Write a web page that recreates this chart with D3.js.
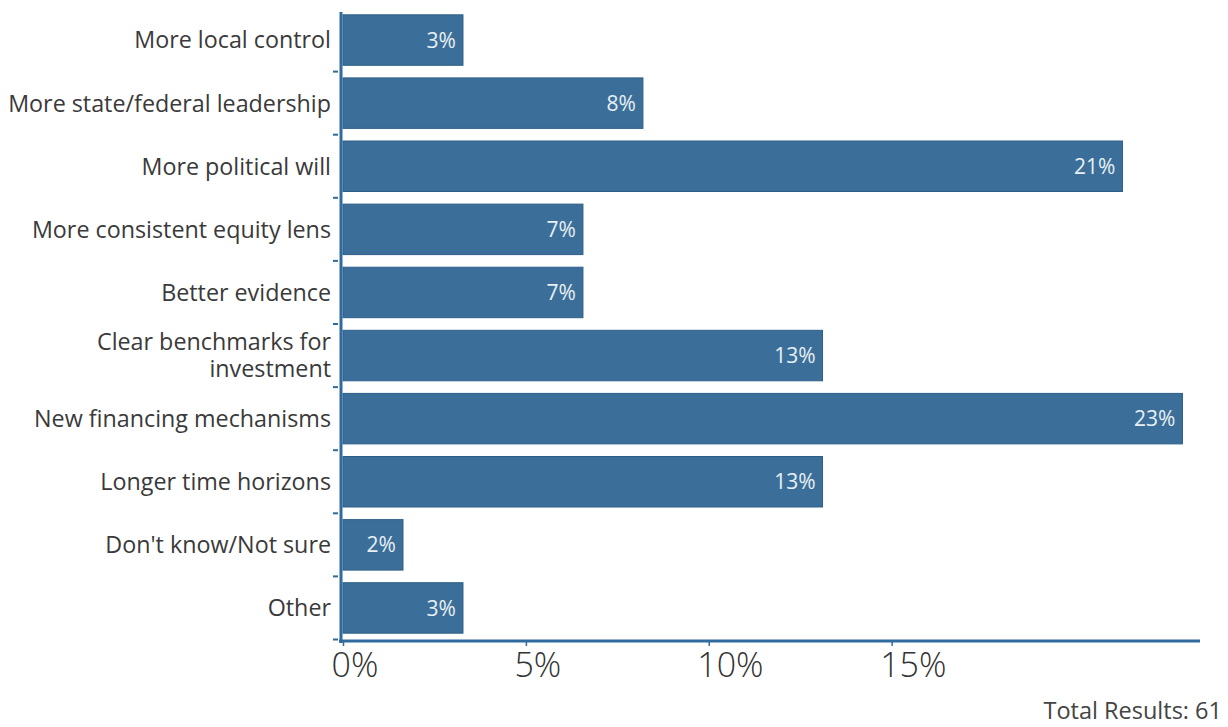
<!DOCTYPE html>
<html>
<head>
<meta charset="utf-8">
<script src="https://cdn.jsdelivr.net/npm/d3@7"></script>
<style>
  body { margin: 0; background: #fff; }
  svg text { font-family: "Open Sans", "Noto Sans", sans-serif; }
  .cat-label { fill: #3a3a3a; font-size: 23.3px; }
  .val-label { fill: #e9eff4; font-size: 21px; }
  .axis--x text { fill: #333; font-size: 34px; font-weight: 300; }
  .total { fill: #444; font-size: 23.5px; }
</style>
</head>
<body>
<div id="chart"></div>
<script>
// survey answers (share of 61 responses, %)
const categories = [
  "More local control",
  "More state/federal leadership",
  "More political will",
  "More consistent equity lens",
  "Better evidence",
  "Clear benchmarks for|investment",
  "New financing mechanisms",
  "Longer time horizons",
  "Don't know/Not sure",
  "Other"
];
const values = [3.28, 8.20, 21.31, 6.56, 6.56, 13.11, 22.95, 13.11, 1.64, 3.28];
const valueLabels = ["3%", "8%", "21%", "7%", "7%", "13%", "23%", "13%", "2%", "3%"];
const xTicks = [0, 5, 10, 15];
const xTickLabels = ["0%", "5%", "10%", "15%"];
const totalText = "Total Results: 61";

const data = categories.map((c, i) => ({ cat: c, value: values[i], label: valueLabels[i] }));

const width = 1228, height = 727;
const x0 = 343, xEnd = 1200;
const axisY = 641;

const svg = d3.select("#chart").append("svg")
    .attr("width", width)
    .attr("height", height);

const xScale = d3.scaleLinear()
    .domain([0, 23.43])
    .range([x0, xEnd]);

const yScale = d3.scaleBand()
    .domain(categories)
    .range([8.5, 639.5])
    .paddingInner(0.2)
    .paddingOuter(0.1);

const barColor = "#3b6f99";
const axisColor = "#2f6b9c";

// bars
svg.selectAll(".bar")
  .data(data)
  .enter().append("rect")
    .attr("class", "bar")
    .attr("x", xScale(0))
    .attr("y", d => yScale(d.cat))
    .attr("width", d => xScale(d.value) - xScale(0))
    .attr("height", yScale.bandwidth())
    .attr("fill", barColor)
    .attr("stroke", "#2d5f89")
    .attr("stroke-width", 1);

// value labels inside bar ends
svg.selectAll(".val-label")
  .data(data)
  .enter().append("text")
    .attr("class", "val-label")
    .attr("x", d => xScale(d.value) - 7)
    .attr("y", d => yScale(d.cat) + yScale.bandwidth() / 2)
    .attr("dy", "0.36em")
    .attr("text-anchor", "end")
    .text(d => d.label);

// category labels
const catG = svg.selectAll(".cat-label")
  .data(data)
  .enter().append("text")
    .attr("class", "cat-label")
    .attr("text-anchor", "end")
    .attr("y", d => yScale(d.cat) + yScale.bandwidth() / 2);

catG.each(function(d) {
  const lines = d.cat.split("|");
  const t = d3.select(this);
  const lh = 27;
  lines.forEach((ln, i) => {
    t.append("tspan")
      .attr("x", 331)
      .attr("dy", i === 0 ? (0.36 * 23.3 - (lines.length - 1) * lh / 2) + "px" : lh + "px")
      .text(ln);
  });
});

// y axis: line + ticks at band boundaries
const step = yScale.step();
const boundaries = categories.map((c, i) => yScale(c) + yScale.bandwidth() + (step - yScale.bandwidth()) / 2);

svg.append("line")
    .attr("x1", 341).attr("x2", 341)
    .attr("y1", 12).attr("y2", axisY + 2)
    .attr("stroke", axisColor)
    .attr("stroke-width", 3);

svg.selectAll(".ytick")
  .data(boundaries)
  .enter().append("line")
    .attr("class", "ytick")
    .attr("x1", 333).attr("x2", 338)
    .attr("y1", d => d).attr("y2", d => d)
    .attr("stroke", axisColor)
    .attr("stroke-width", 2);

// x axis
const xAxis = d3.axisBottom(xScale)
    .tickValues(xTicks)
    .tickSize(5)
    .tickFormat((d, i) => xTickLabels[i]);

const xAxisGroup = svg.append("g")
    .attr("class", "axis axis--x")
    .attr("transform", "translate(0," + axisY + ")")
    .call(xAxis);

xAxisGroup.select(".domain").remove();
xAxisGroup.selectAll(".tick line")
    .attr("stroke", axisColor)
    .attr("stroke-width", 1.5);
xAxisGroup.selectAll(".tick text")
    .attr("text-anchor", "start")
    .attr("x", -12)
    .attr("y", 12)
    .attr("dy", "0.71em");

svg.append("line")
    .attr("x1", 339).attr("x2", xEnd)
    .attr("y1", axisY).attr("y2", axisY)
    .attr("stroke", axisColor)
    .attr("stroke-width", 3);

// footer
svg.append("text")
    .attr("class", "total")
    .attr("x", 1222)
    .attr("y", 719)
    .attr("text-anchor", "end")
    .text(totalText);
</script>
</body>
</html>
